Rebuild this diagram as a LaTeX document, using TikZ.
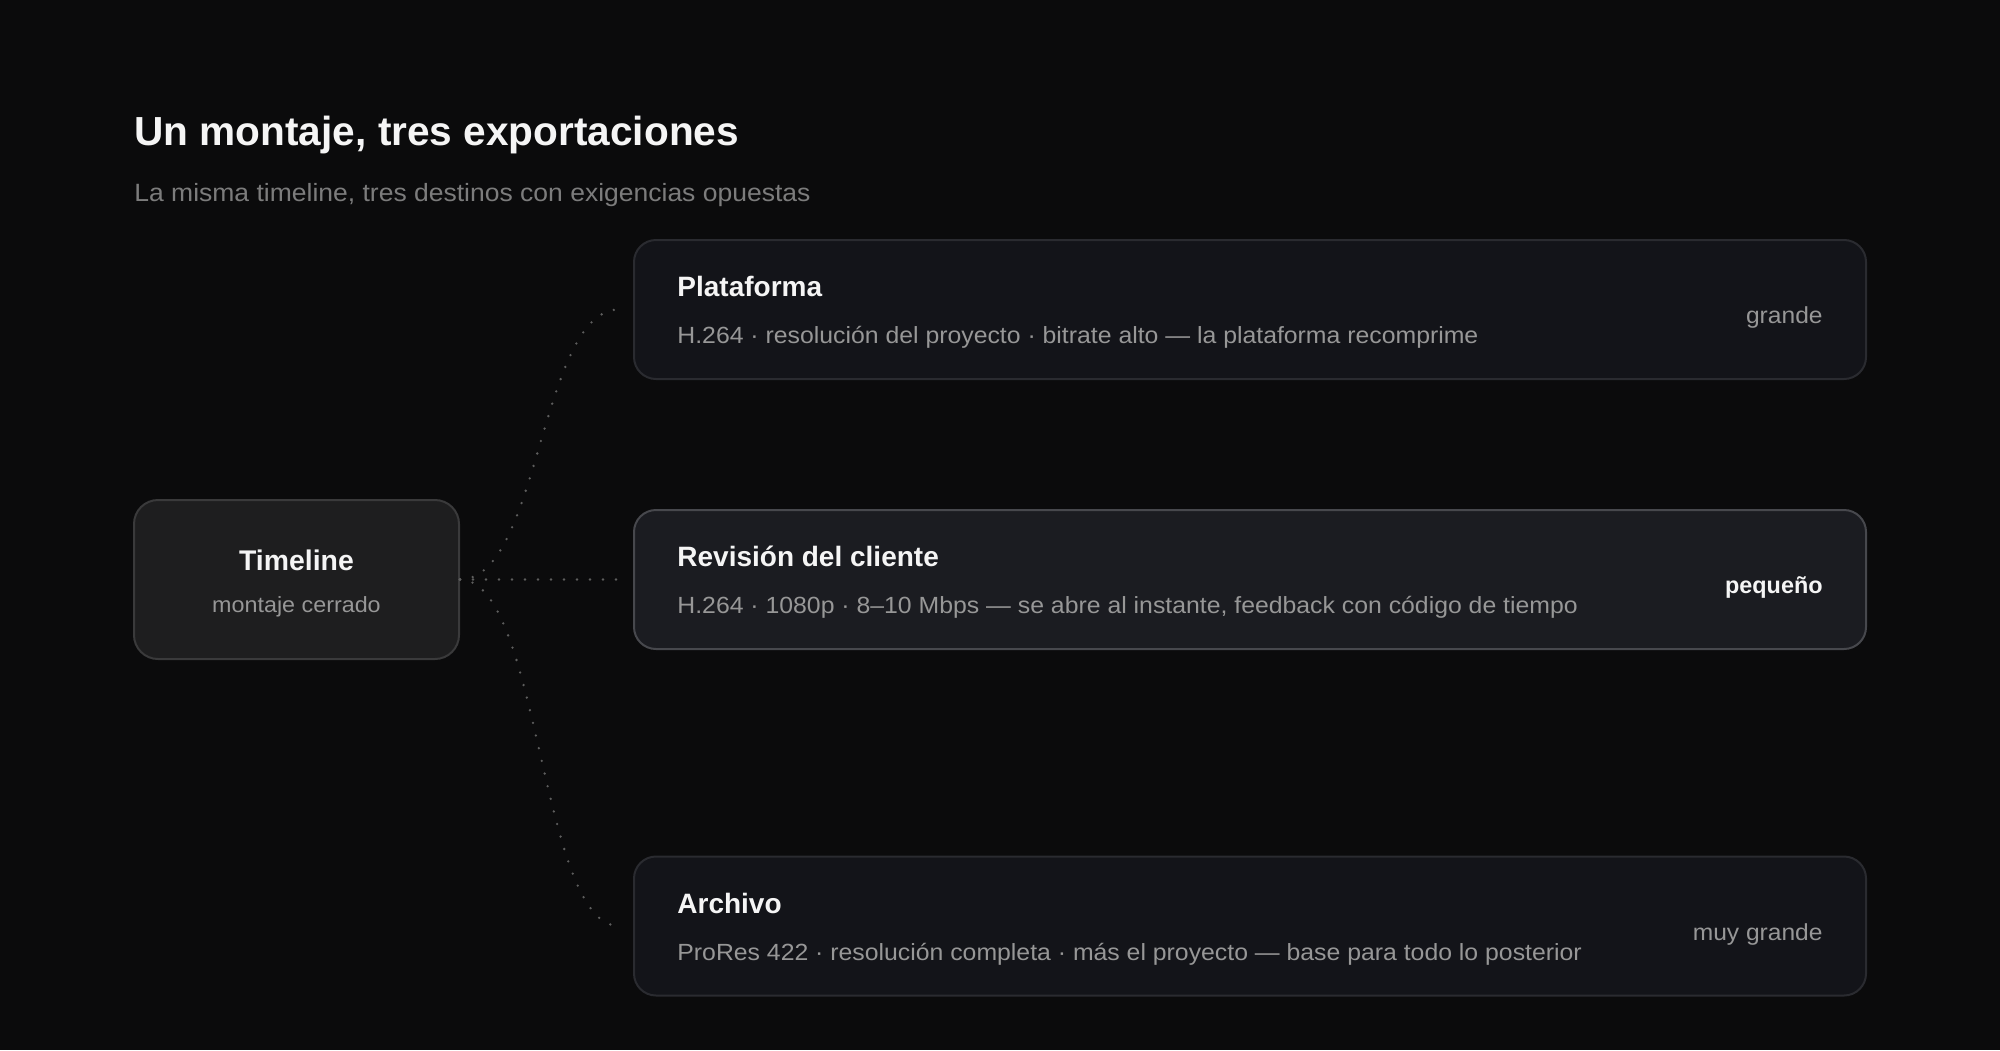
\documentclass[tikz,border=0pt]{standalone}
\usepackage{fontspec}
\setmainfont{Liberation Sans}
\newfontfamily\regf[FakeStretch=1.06]{Liberation Sans}
\usetikzlibrary{calc}
\definecolor{bg}{HTML}{0B0B0C}
\definecolor{tlfill}{HTML}{1E1E1F}
\definecolor{tldraw}{HTML}{3A3A3B}
\definecolor{cardfill}{HTML}{131419}
\definecolor{carddraw}{HTML}{2A2B30}
\definecolor{hifill}{HTML}{1B1C21}
\definecolor{hidraw}{HTML}{47484D}
\definecolor{titlecol}{HTML}{F5F5F5}
\definecolor{subcol}{HTML}{7C7C7C}
\definecolor{desccol}{HTML}{979797}
\definecolor{dotcol}{HTML}{5E5E5E}
\tikzset{
  card/.style={draw=carddraw, fill=cardfill, line width=1pt, rounded corners=11pt,
    minimum width=616pt, minimum height=69.5pt, inner sep=0pt},
  hicard/.style={card, draw=hidraw, fill=hifill},
  tlbox/.style={draw=tldraw, fill=tlfill, line width=1pt, rounded corners=12pt,
    minimum width=162.5pt, minimum height=79.5pt, inner sep=0pt},
  cardtitle/.style={anchor=base west, inner sep=0pt, text=titlecol, font=\fontsize{14pt}{16pt}\selectfont\bfseries},
  carddesc/.style={anchor=base west, inner sep=0pt, text=desccol, font=\fontsize{11.7pt}{13pt}\regf},
  sizelbl/.style={anchor=base east, inner sep=0pt, text=desccol, font=\fontsize{11.6pt}{13pt}\regf},
  sizelblhi/.style={anchor=base east, inner sep=0pt, text=titlecol, font=\fontsize{11.7pt}{13pt}\selectfont\bfseries},
  conn/.style={draw=dotcol, line width=1.3pt, line cap=round, dash pattern=on 0pt off 6.5pt}
}
\begin{document}
\begin{tikzpicture}[x=0.5pt, y=-0.5pt]
\fill[bg] (0,0) rectangle (2000,1050);
\useasboundingbox (0,0) rectangle (2000,1050);

\node[anchor=base west, inner sep=0pt, text=titlecol, font=\fontsize{20.3pt}{24pt}\selectfont\bfseries] (title) at (134,145) {Un montaje, tres exportaciones};
\node[anchor=base west, inner sep=0pt, text=subcol, font=\fontsize{12.5pt}{15pt}\regf] (subtitle) at (134,201) {La misma timeline, tres destinos con exigencias opuestas};

% timeline box
\node[tlbox] (tl) at (296.5,579.5) {};
\node[anchor=base, inner sep=0pt, text=titlecol, font=\fontsize{14.2pt}{16pt}\selectfont\bfseries] (tltitle) at (296.5,570) {Timeline};
\node[anchor=base, inner sep=0pt, text=desccol, font=\fontsize{11pt}{13pt}\regf] (tlsub) at (296.5,612) {montaje cerrado};

% cards
\node[card] (plat) at (1250,309.5) {};
\node[cardtitle] (plattitle) at (677,296) {Plataforma};
\node[carddesc] (platdesc) at (677,343) {H.264 · resolución del proyecto · bitrate alto — la plataforma recomprime};
\node[sizelbl] (platsize) at (1823,323) {grande};

\node[hicard] (rev) at (1250,579.5) {};
\node[cardtitle] (revtitle) at (677,566) {Revisión del cliente};
\node[carddesc] (revdesc) at (677,613) {H.264 · 1080p · 8–10 Mbps — se abre al instante, feedback con código de tiempo};
\node[sizelblhi] (revsize) at (1823,593) {pequeño};

\node[card] (arch) at (1250,926) {};
\node[cardtitle] (archtitle) at (677,913) {Archivo};
\node[carddesc] (archdesc) at (677,960) {ProRes 422 · resolución completa · más el proyecto — base para todo lo posterior};
\node[sizelbl] (archsize) at (1823,940) {muy grande};

% connectors
\draw[conn] (tl.east) .. controls (540,579.5) and (540,309.5) .. ([xshift=-7pt]plat.west);
\draw[conn] (tl.east) -- ([xshift=-8pt]rev.west);
\draw[conn] (tl.east) .. controls (540,579.5) and (540,926) .. ([xshift=-7pt]arch.west);
\end{tikzpicture}
\end{document}
